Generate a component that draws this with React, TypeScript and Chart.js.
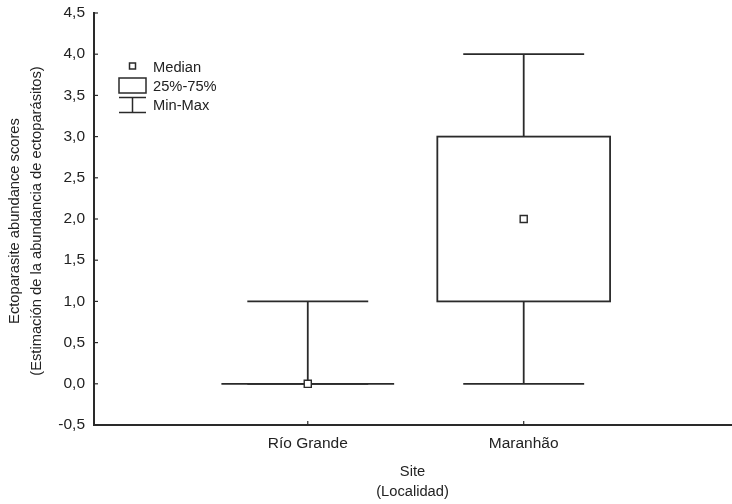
import React, { useEffect, useRef } from 'react';
import { Chart, registerables } from 'chart.js';

Chart.register(...registerables);

// ---- data ----
const categories = ['Río Grande', 'Maranhão'];
const positions = [1, 2];
const minValues = [0, 0];
const q1Values = [0, 1];
const medianValues = [0, 2];
const q3Values = [0, 3];
const maxValues = [1, 4];

const yMin = -0.5;
const yMax = 4.5;
const yStep = 0.5;

const yTitleLines = ['Ectoparasite abundance scores', '(Estimación de la abundancia de ectoparásitos)'];
const xTitleLines = ['Site', '(Localidad)'];
const legendLabels = ['Median', '25%-75%', 'Min-Max'];

// ---- style ----
const FONT_FAMILY = '"Liberation Sans", Arial, Helvetica, sans-serif';
const INK = '#222222';
const LINE = '#2a2a2a';
const BOX_HALF = 0.4;
const CAP_HALF = 0.28;

export default function App() {
  const ref = useRef<HTMLCanvasElement>(null);

  useEffect(() => {
    document.body.style.margin = '0';
    const canvas = ref.current;
    if (!canvas) return;

    const line = (ctx: CanvasRenderingContext2D, x1: number, y1: number, x2: number, y2: number) => {
      ctx.beginPath();
      ctx.moveTo(x1, y1);
      ctx.lineTo(x2, y2);
      ctx.stroke();
    };

    const boxPlugin = {
      id: 'boxDraw',
      beforeDatasetsDraw(chart: any) {
        const { ctx } = chart;
        const x = chart.scales.x;
        const y = chart.scales.y;
        ctx.save();
        ctx.strokeStyle = LINE;
        ctx.lineWidth = 1.8;
        categories.forEach((_, i) => {
          const cx = x.getPixelForValue(positions[i]);
          const bw = x.getPixelForValue(positions[i] + BOX_HALF) - cx;
          const cw = x.getPixelForValue(positions[i] + CAP_HALF) - cx;
          const yMinP = y.getPixelForValue(minValues[i]);
          const yQ1 = y.getPixelForValue(q1Values[i]);
          const yQ3 = y.getPixelForValue(q3Values[i]);
          const yMaxP = y.getPixelForValue(maxValues[i]);
          if (yMaxP !== yQ3) line(ctx, cx, yQ3, cx, yMaxP);
          if (yMinP !== yQ1) line(ctx, cx, yQ1, cx, yMinP);
          line(ctx, cx - cw, yMaxP, cx + cw, yMaxP);
          line(ctx, cx - cw, yMinP, cx + cw, yMinP);
          if (yQ1 === yQ3) {
            line(ctx, cx - bw, yQ1, cx + bw, yQ1);
          } else {
            ctx.strokeRect(cx - bw, yQ3, 2 * bw, yQ1 - yQ3);
          }
        });
        ctx.restore();
      },
      afterDraw(chart: any) {
        const { ctx, chartArea } = chart;
        const x = chart.scales.x;
        const y = chart.scales.y;
        ctx.save();
        ctx.strokeStyle = LINE;
        ctx.lineWidth = 1.2;
        y.ticks.forEach((t: any) => {
          const py = y.getPixelForValue(t.value);
          line(ctx, chartArea.left, py, chartArea.left + 4, py);
        });
        x.ticks.forEach((t: any) => {
          const px = x.getPixelForValue(t.value);
          line(ctx, px, chartArea.bottom, px, chartArea.bottom - 4);
        });

        ctx.fillStyle = INK;
        ctx.font = `14.7px ${FONT_FAMILY}`;
        ctx.textAlign = 'center';
        ctx.textBaseline = 'alphabetic';
        const cy = (chartArea.top + chartArea.bottom) / 2 + 2;
        const yTitleX = [19, 41];
        yTitleLines.forEach((txt, i) => {
          ctx.save();
          ctx.translate(yTitleX[i], cy);
          ctx.rotate(-Math.PI / 2);
          ctx.fillText(txt, 0, 0);
          ctx.restore();
        });
        const cx = (chartArea.left + chartArea.right) / 2;
        const xTitleY = [476, 496];
        xTitleLines.forEach((txt, i) => {
          ctx.fillText(txt, cx, xTitleY[i]);
        });

        const gx1 = 119, gx2 = 146, gmid = 132.5;
        ctx.lineWidth = 1.5;
        ctx.fillStyle = '#ffffff';
        ctx.fillRect(gmid - 3, 63, 6, 6);
        ctx.strokeRect(gmid - 3, 63, 6, 6);
        ctx.strokeRect(gx1, 78, gx2 - gx1, 15);
        line(ctx, gx1, 97.5, gx2, 97.5);
        line(ctx, gmid, 97.5, gmid, 112.5);
        line(ctx, gx1, 112.5, gx2, 112.5);
        ctx.fillStyle = INK;
        ctx.textAlign = 'left';
        const legendY = [72, 91, 110];
        legendLabels.forEach((txt, i) => ctx.fillText(txt, 153, legendY[i]));
        ctx.restore();
      },
    };

    const chart = new Chart(canvas, {
      type: 'scatter',
      data: {
        datasets: [
          {
            label: 'Median',
            data: positions.map((p, i) => ({ x: p, y: medianValues[i] })),
            pointStyle: 'rect',
            pointRadius: 5,
            pointHoverRadius: 5,
            pointBackgroundColor: '#ffffff',
            pointBorderColor: LINE,
            pointBorderWidth: 1.4,
          },
        ],
      },
      options: {
        responsive: false,
        animation: false,
        devicePixelRatio: 1,
        layout: { autoPadding: false, padding: { top: 13, right: 1, left: 0, bottom: 0 } },
        plugins: { legend: { display: false }, tooltip: { enabled: false } },
        events: [],
        scales: {
          x: {
            type: 'linear',
            min: 0.01,
            max: 2.96,
            afterBuildTicks: (scale: any) => {
              scale.ticks = positions.map((v) => ({ value: v }));
            },
            afterFit: (scale: any) => {
              scale.height = 79;
              scale.paddingLeft = 0;
              scale.paddingRight = 0;
            },
            grid: { display: false, drawTicks: false },
            border: { display: true, color: LINE, width: 2 },
            ticks: {
              padding: 9,
              color: INK,
              font: { family: FONT_FAMILY, size: 15.5 },
              maxRotation: 0,
              autoSkip: false,
              callback: (v: any) => {
                const idx = positions.indexOf(Number(v));
                return idx >= 0 ? categories[idx] : '';
              },
            },
          },
          y: {
            type: 'linear',
            min: yMin,
            max: yMax,
            afterFit: (scale: any) => {
              scale.width = 94;
              scale.paddingTop = 0;
              scale.paddingBottom = 0;
            },
            grid: { display: false, drawTicks: false },
            border: { display: true, color: LINE, width: 2 },
            ticks: {
              stepSize: yStep,
              padding: 9,
              color: INK,
              font: { family: FONT_FAMILY, size: 15.5 },
              callback: (v: any) => Number(v).toFixed(1).replace('.', ','),
            },
          },
        },
      },
      plugins: [boxPlugin],
    });

    return () => chart.destroy();
  }, []);

  return (
    <div style={{ position: 'relative', width: 732, height: 504, background: '#ffffff' }}>
      <canvas ref={ref} width={732} height={504} style={{ display: 'block' }} />
    </div>
  );
}
